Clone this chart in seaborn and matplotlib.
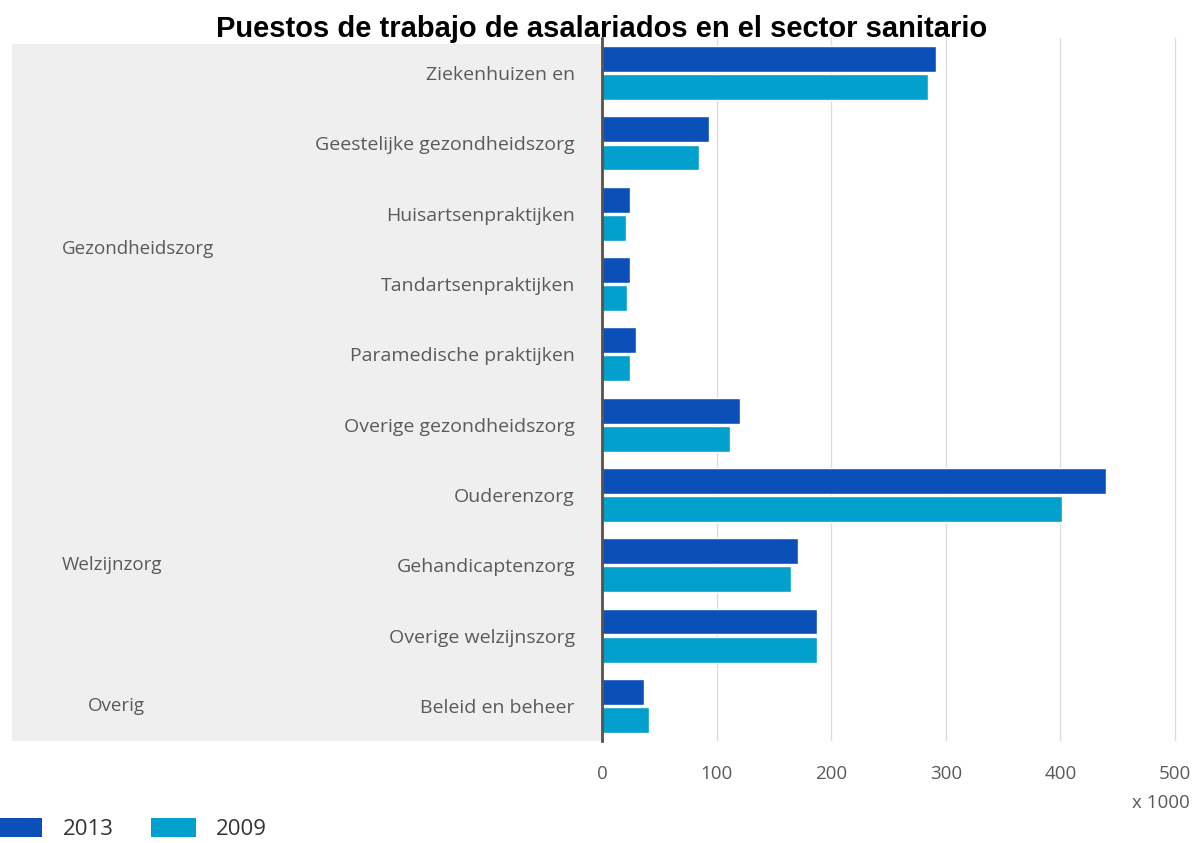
import matplotlib

matplotlib.use("Agg")
import matplotlib.pyplot as plt
import pandas as pd
import seaborn as sns
from matplotlib.patches import Patch, Rectangle
from matplotlib.transforms import blended_transform_factory

categories = [
    "Ziekenhuizen en",
    "Geestelijke gezondheidszorg",
    "Huisartsenpraktijken",
    "Tandartsenpraktijken",
    "Paramedische praktijken",
    "Overige gezondheidszorg",
    "Ouderenzorg",
    "Gehandicaptenzorg",
    "Overige welzijnszorg",
    "Beleid en beheer",
]
values_2013 = [291, 93, 24, 24, 30, 120, 440, 171, 188, 37]
values_2009 = [284, 85, 21, 22, 24, 112, 401, 165, 188, 41]
years = ["2013", "2009"]
groups = [("Gezondheidszorg", 0, 5), ("Welzijnzorg", 6, 8), ("Overig", 9, 9)]
xticks = [0, 100, 200, 300, 400, 500]

colors = {"2013": "#0a50b8", "2009": "#02a0cc"}
text_grey = "#5a5a5a"


def main() -> None:
    sns.set_theme(style="white")
    plt.rcParams["font.family"] = ["Open Sans", "DejaVu Sans"]

    df = pd.DataFrame({
        "categorie": categories * 2,
        "waarde": values_2013 + values_2009,
        "jaar": ["2013"] * len(categories) + ["2009"] * len(categories),
    })

    W, H = 1198, 843
    fig = plt.figure(figsize=(W / 100, H / 100), dpi=100)
    ax = fig.add_axes([602 / W, 1 - 741 / H, (1190 - 602) / W, (741 - 38) / H])

    # grey band behind the labels
    fig.add_artist(Rectangle((12 / W, 1 - 741 / H), (602 - 12) / W, (741 - 44) / H,
                             transform=fig.transFigure, facecolor="#efefef",
                             edgecolor="none", zorder=0))

    sns.barplot(data=df, y="categorie", x="waarde", hue="jaar", hue_order=years,
                order=categories, palette=colors, orient="h", width=0.8,
                gap=0.08, saturation=1, legend=False, ax=ax)

    ax.set_xlim(0, 513)
    ax.set_ylim(len(categories) - 0.5, -0.5)
    ax.set_xticks(xticks)
    ax.set_xticklabels([str(t) for t in xticks], fontsize=13.5, color=text_grey)
    ax.tick_params(axis="x", length=0, pad=17)
    ax.tick_params(axis="y", length=0, pad=19.5, labelsize=14, labelcolor=text_grey)
    ax.set_xlabel("")
    ax.set_ylabel("")
    ax.grid(True, axis="x", color="#dddddd", linewidth=1)
    ax.set_axisbelow(True)
    for side in ["top", "right", "bottom"]:
        ax.spines[side].set_visible(False)
    ax.spines["left"].set_color("#5a5048")
    ax.spines["left"].set_linewidth(2)
    ax.patch.set_alpha(0)

    # group labels on the left
    trans = blended_transform_factory(fig.transFigure, ax.transData)
    for name, start, end in groups:
        ymid = (start + end) / 2
        x_px = 88 if name == "Overig" else 62
        ax.text(x_px / W, ymid, name, transform=trans, ha="left", va="center",
                fontsize=13.5, color=text_grey)

    fig.text(602 / W, 1 - 29 / H, "Puestos de trabajo de asalariados en el sector sanitario",
             ha="center", va="center", fontsize=21, fontweight="bold",
             family=["Liberation Sans", "DejaVu Sans"], color="black")
    fig.text(1190 / W, 1 - 803 / H, "x 1000", ha="right", va="center",
             fontsize=13.5, color=text_grey)

    handles = [Patch(facecolor=colors[y], edgecolor="none", label=y) for y in years]
    leg = fig.legend(handles=handles, loc="lower left", bbox_to_anchor=(-2 / W, 3 / H),
                     ncol=2, frameon=False, fontsize=16, handlelength=2.0,
                     handleheight=0.9, handletextpad=0.9, columnspacing=1.7,
                     borderpad=0, borderaxespad=0)
    for t in leg.get_texts():
        t.set_color("#333333")

    fig.savefig("out.png", dpi=100)
    plt.close(fig)


if __name__ == "__main__":
    main()
